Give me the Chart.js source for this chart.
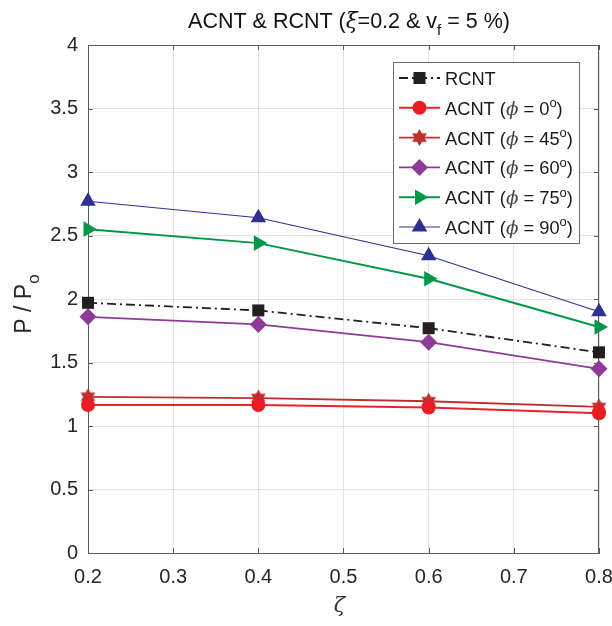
<!DOCTYPE html>
<html><head><meta charset="utf-8">
<script src="https://cdn.jsdelivr.net/npm/chart.js@4/dist/chart.umd.min.js"></script>
<style>html,body{margin:0;padding:0;background:#fff}#wrap{width:612px;height:626px}</style>
</head><body><div id="wrap"><canvas id="c" width="612" height="626"></canvas></div>
<script>
// ---- data ----
const zeta = [0.2, 0.4, 0.6, 0.8];
const rcnt = [1.97, 1.91, 1.77, 1.58];
const acnt0 = [1.165, 1.165, 1.145, 1.10];
const acnt45 = [1.23, 1.22, 1.195, 1.15];
const acnt60 = [1.86, 1.80, 1.66, 1.45];
const acnt75 = [2.55, 2.44, 2.16, 1.78];
const acnt90 = [2.77, 2.64, 2.34, 1.90];
const phiAngles = ['0', '45', '60', '75', '90'];
const xTicks = [0.2, 0.3, 0.4, 0.5, 0.6, 0.7, 0.8];
const yTicks = [0, 0.5, 1, 1.5, 2, 2.5, 3, 3.5, 4];

const FONT = '"Liberation Sans", Arial, Helvetica, sans-serif';
const TXT = '#262626';
const AX = '#5a5a5a';

// hexagram marker
function hexagram(color, r) {
  const c = document.createElement('canvas');
  const s = Math.ceil(r * 2 + 2);
  c.width = s; c.height = s;
  const g = c.getContext('2d');
  const cx = s / 2, cy = s / 2;
  g.fillStyle = color;
  g.beginPath();
  for (let i = 0; i < 12; i++) {
    const a = -Math.PI / 2 + i * Math.PI / 6;
    const rr = i % 2 === 0 ? r : r * 0.577;
    const px = cx + rr * Math.cos(a), py = cy + rr * Math.sin(a);
    if (i === 0) g.moveTo(px, py); else g.lineTo(px, py);
  }
  g.closePath(); g.fill();
  return c;
}
const starImg = hexagram('#bf2f2e', 8.5);

function pts(arr) { return zeta.map((x, i) => ({ x: x, y: arr[i] })); }

const datasets = [
  { label: 'RCNT', data: pts(rcnt), borderColor: '#231f20', backgroundColor: '#231f20', borderWidth: 1.8, borderDash: [9, 4, 2, 4], pointStyle: 'rect', pointRadius: 8.5, pointBorderWidth: 0 },
  { label: 'ACNT 0', data: pts(acnt0), borderColor: '#e8232b', backgroundColor: '#ec1c24', borderWidth: 2, pointStyle: 'circle', pointRadius: 7, pointBorderWidth: 0 },
  { label: 'ACNT 45', data: pts(acnt45), borderColor: '#be2e2e', backgroundColor: '#bf2f2e', borderWidth: 1.8, pointStyle: starImg, pointRadius: 8, pointBorderWidth: 0 },
  { label: 'ACNT 60', data: pts(acnt60), borderColor: '#8e3b98', backgroundColor: '#8d3b97', borderWidth: 1.8, pointStyle: 'rectRot', pointRadius: 8.5, pointBorderWidth: 0 },
  { label: 'ACNT 75', data: pts(acnt75), borderColor: '#00974a', backgroundColor: '#00974a', borderWidth: 2, pointStyle: 'triangle', pointRotation: 90, pointRadius: 9, pointBorderWidth: 0 },
  { label: 'ACNT 90', data: pts(acnt90), borderColor: '#2e3192', backgroundColor: '#2e3192', borderWidth: 1.1, pointStyle: 'triangle', pointRadius: 9, pointBorderWidth: 0 }
];
datasets.forEach(d => { d.fill = false; d.tension = 0; d.clip = false; d.pointHoverRadius = d.pointRadius; });

// rich text: segments {t, s: 'sub'|'sup', f: font override}
function segFont(sg, size) {
  const sz = sg.s ? Math.round(size * 0.72) : size;
  return (sg.f ? sg.f.replace('%S', sz + 'px') : (sz + 'px ' + FONT));
}
function richWidth(ctx, segs, size) {
  let w = 0;
  segs.forEach(sg => { ctx.font = segFont(sg, size); w += ctx.measureText(sg.t).width; });
  return w;
}
function drawRich(ctx, segs, x, y, size, align, color) {
  let w = richWidth(ctx, segs, size);
  let cx = align === 'center' ? x - w / 2 : (align === 'right' ? x - w : x);
  ctx.textBaseline = 'alphabetic';
  ctx.textAlign = 'left';
  segs.forEach(sg => {
    ctx.font = segFont(sg, size);
    ctx.fillStyle = sg.c || color;
    let dy = sg.s === 'sub' ? size * 0.33 : (sg.s === 'sup' ? -size * 0.42 : 0);
    ctx.fillText(sg.t, cx, y + dy);
    cx += ctx.measureText(sg.t).width;
  });
}

const GREEK = 'italic %S "DejaVu Serif", "Liberation Serif", serif';
const titleSegs = [{ t: 'ACNT & RCNT (' }, { t: 'ξ', f: GREEK }, { t: '=0.2 & v' }, { t: 'f', s: 'sub' }, { t: ' = 5 %)' }];
const ylabelSegs = [{ t: 'P / P' }, { t: 'o', s: 'sub' }];
const legendSegs = [[{ t: 'RCNT' }]].concat(phiAngles.map(a => [
  { t: 'ACNT (' }, { t: 'ϕ', f: 'italic %S "DejaVu Serif", serif', c: '#444' }, { t: ' = ' + a }, { t: 'o', s: 'sup' }, { t: ')' }
]));

const decor = {
  id: 'decor',
  beforeDatasetsDraw(chart) {
    const ctx = chart.ctx, a = chart.chartArea;
    const xs = chart.scales.x, ys = chart.scales.y;
    ctx.save();
    ctx.strokeStyle = AX; ctx.lineWidth = 1;
    ctx.beginPath();
    ctx.moveTo(a.left, a.top + 0.5); ctx.lineTo(a.right, a.top + 0.5);
    ctx.moveTo(a.right - 0.5, a.top); ctx.lineTo(a.right - 0.5, a.bottom);
    const L = 5;
    xTicks.forEach(v => {
      const p = Math.round(xs.getPixelForValue(v)) + 0.5;
      ctx.moveTo(p, a.bottom); ctx.lineTo(p, a.bottom - L);
      ctx.moveTo(p, a.top); ctx.lineTo(p, a.top + L);
    });
    yTicks.forEach(v => {
      const p = Math.round(ys.getPixelForValue(v)) + 0.5;
      ctx.moveTo(a.left, p); ctx.lineTo(a.left + L, p);
      ctx.moveTo(a.right, p); ctx.lineTo(a.right - L, p);
    });
    ctx.stroke();
    ctx.restore();
  },
  afterDraw(chart) {
    const ctx = chart.ctx, a = chart.chartArea;
    ctx.save();
    // title
    drawRich(ctx, titleSegs, 349, 28, 21.5, 'center', '#111');
    // x label
    ctx.font = 'italic 21px "DejaVu Serif", "Liberation Serif", serif';
    ctx.fillStyle = '#333'; ctx.textAlign = 'center'; ctx.textBaseline = 'alphabetic';
    ctx.fillText('ζ', (a.left + a.right) / 2 - 4, 612);
    // y label
    ctx.save();
    ctx.translate(31, 304);
    ctx.rotate(-Math.PI / 2);
    drawRich(ctx, ylabelSegs, 0, 0, 23, 'center', TXT);
    ctx.restore();
    // legend
    const bx = 393.5, by = 62.5, bw = 186, bh = 181;
    ctx.fillStyle = '#fff';
    ctx.fillRect(bx, by, bw, bh);
    ctx.strokeStyle = '#6a6a6a'; ctx.lineWidth = 1;
    ctx.strokeRect(bx, by, bw, bh);
    chart.data.datasets.forEach((d, i) => {
      const cy = 78 + i * 29.8;
      ctx.save();
      ctx.strokeStyle = d.borderColor; ctx.lineWidth = d.borderWidth;
      ctx.setLineDash(d.borderDash || []);
      ctx.beginPath(); ctx.moveTo(399, cy); ctx.lineTo(440, cy); ctx.stroke();
      ctx.setLineDash([]);
      ctx.fillStyle = d.backgroundColor; ctx.strokeStyle = d.backgroundColor;
      Chart.helpers.drawPoint(ctx, { pointStyle: d.pointStyle, rotation: d.pointRotation || 0, radius: d.pointRadius, borderWidth: 0 }, 419.5, cy);
      ctx.restore();
      drawRich(ctx, legendSegs[i], 445, cy + 7, 18.3, 'left', '#1a1a1a');
    });
    ctx.restore();
  }
};

new Chart(document.getElementById('c'), {
  type: 'line',
  data: { datasets: datasets },
  options: {
    responsive: false,
    animation: false,
    devicePixelRatio: 1,
    layout: { padding: { left: 0, right: 13, top: 45, bottom: 0 } },
    plugins: { legend: { display: false }, title: { display: false }, tooltip: { enabled: false } },
    scales: {
      x: {
        type: 'linear', min: 0.2, max: 0.8,
        afterBuildTicks(s) { s.ticks = xTicks.map(v => ({ value: v })); },
        afterFit(s) { s.height = 73; s.paddingLeft = 0; s.paddingRight = 0; },
        ticks: { padding: 12, color: TXT, font: { family: FONT, size: 20 }, maxRotation: 0, autoSkip: false, callback: v => v.toFixed(1) },
        grid: { color: '#e3e3e3', lineWidth: 1, drawTicks: false },
        border: { display: true, color: AX, width: 1 }
      },
      y: {
        type: 'linear', min: 0, max: 4,
        afterBuildTicks(s) { s.ticks = yTicks.map(v => ({ value: v })); },
        afterFit(s) { s.width = 88; s.paddingTop = 0; s.paddingBottom = 0; },
        ticks: { padding: 10, color: TXT, font: { family: FONT, size: 20 }, autoSkip: false, callback: v => String(v) },
        grid: { color: '#e3e3e3', lineWidth: 1, drawTicks: false },
        border: { display: true, color: AX, width: 1 }
      }
    }
  },
  plugins: [decor]
});
</script></body></html>
